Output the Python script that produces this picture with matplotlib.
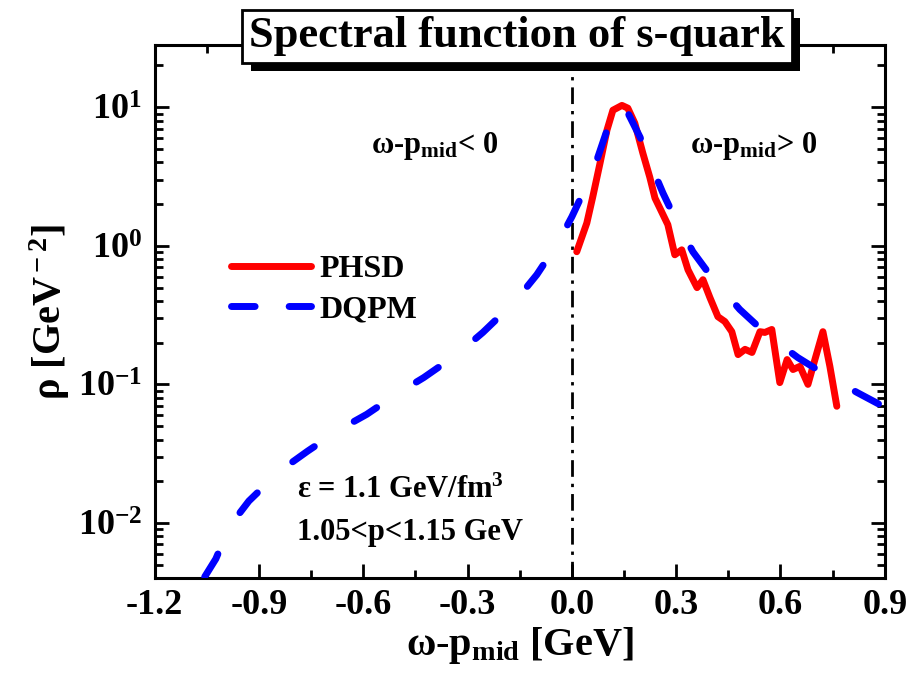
import numpy as np
import matplotlib; matplotlib.use("Agg")
import matplotlib.pyplot as plt
import matplotlib.patheffects as pe
from matplotlib.lines import Line2D
from matplotlib.ticker import FixedLocator, FixedFormatter, LogLocator

plt.rcParams["font.family"] = ["Liberation Serif", "DejaVu Serif"]
plt.rcParams["font.weight"] = "bold"
plt.rcParams["axes.labelweight"] = "bold"
plt.rcParams["mathtext.fontset"] = "custom"
plt.rcParams["mathtext.rm"] = "Liberation Serif:bold"
plt.rcParams["mathtext.bf"] = "Liberation Serif:bold"
plt.rcParams["mathtext.it"] = "Liberation Serif:bold:italic"

# ---- data ----
dqpm_x = [-1.056, -1.024, -0.984, -0.929, -0.840, -0.760, -0.667, -0.590, -0.501, -0.426,
          -0.331, -0.256, -0.164, -0.101, -0.040, 0.000, 0.043, 0.072, 0.104, 0.147,
          0.196, 0.224, 0.262, 0.296, 0.348, 0.403, 0.483, 0.561, 0.650, 0.728, 0.820, 0.900]
dqpm_rho = [0.00409, 0.00551, 0.00951, 0.0144, 0.0237, 0.0330, 0.0474, 0.0608, 0.0861, 0.112,
            0.164, 0.237, 0.395, 0.618, 1.05, 1.62, 2.75, 4.16, 7.18, 10.7,
            6.08, 4.02, 2.40, 1.59, 0.906, 0.589, 0.347, 0.229, 0.156, 0.118, 0.0875, 0.0684]

phsd_x = [0.014, 0.043, 0.060, 0.081, 0.101, 0.118, 0.144, 0.161, 0.181, 0.204,
          0.224, 0.239, 0.253, 0.276, 0.296, 0.316, 0.334, 0.360, 0.377, 0.397,
          0.420, 0.440, 0.460, 0.478, 0.498, 0.518, 0.541, 0.555, 0.575, 0.598,
          0.619, 0.636, 0.656, 0.679, 0.699, 0.722, 0.742, 0.762]
phsd_rho = [0.906, 1.46, 2.25, 3.95, 6.84, 9.51, 10.3, 9.84, 7.67, 4.67,
            3.13, 2.21, 1.87, 1.42, 0.861, 0.935, 0.671, 0.499, 0.569, 0.423,
            0.308, 0.284, 0.240, 0.164, 0.179, 0.170, 0.240, 0.237, 0.249, 0.103,
            0.151, 0.128, 0.135, 0.100, 0.151, 0.240, 0.135, 0.0695]

x_ticks = [-1.2, -0.9, -0.6, -0.3, 0.0, 0.3, 0.6, 0.9]
x_ticklabels = ["-1.2", "-0.9", "-0.6", "-0.3", "0.0", "0.3", "0.6", "0.9"]
x_minor = [-1.05, -0.75, -0.45, -0.15, 0.15, 0.45, 0.75]

fig = plt.figure(figsize=(9.15, 6.85), dpi=100)
ax = fig.add_axes([0.169, 0.156, 0.798, 0.778])

ax.plot(phsd_x, phsd_rho, color="#ff0000", lw=5, solid_joinstyle="round",
        solid_capstyle="round", zorder=3)
ax.plot(dqpm_x, dqpm_rho, color="#0000ff", lw=5, dashes=(3.8, 6.8),
        dash_capstyle="round", zorder=4)
ax.axvline(0.0, color="k", lw=2, ls=(0, (6, 2.5, 1.2, 2.5)), zorder=2)

ax.set_yscale("log")
ax.set_xlim(-1.2, 0.9)
ax.set_ylim(0.004, 28)
ax.xaxis.set_major_locator(FixedLocator(x_ticks))
ax.xaxis.set_major_formatter(FixedFormatter(x_ticklabels))
ax.xaxis.set_minor_locator(FixedLocator(x_minor))
ax.yaxis.set_major_locator(LogLocator(base=10, numticks=10))
ax.yaxis.set_minor_locator(LogLocator(base=10, subs=np.arange(2, 10), numticks=20))
ax.yaxis.set_minor_formatter(plt.NullFormatter())

ax.tick_params(which="both", direction="in", top=True, right=True, width=2)
ax.tick_params(which="major", length=10, labelsize=26)
ax.tick_params(which="minor", length=6)
ax.tick_params(axis="x", which="major", pad=8)
ax.tick_params(axis="y", which="major", pad=9)
for lab in ax.get_xticklabels() + ax.get_yticklabels():
    lab.set_fontweight("bold")
for s in ax.spines.values():
    s.set_linewidth(2.2)

ax.set_xlabel("ω-p$_{\\rm mid}$ [GeV]", fontsize=29, labelpad=2)
ax.set_ylabel("ρ [GeV$^{\\rm -2}$]", fontsize=29, labelpad=4)

ax.text(0.297, 0.797, "ω-p$_{\\rm mid}$< 0", transform=ax.transAxes, fontsize=22,
        ha="left", va="baseline")
ax.text(0.733, 0.797, "ω-p$_{\\rm mid}$> 0", transform=ax.transAxes, fontsize=22,
        ha="left", va="baseline")
ax.text(0.195, 0.150, "ε = 1.1 GeV/fm$^{3}$", transform=ax.transAxes, fontsize=22,
        ha="left", va="baseline")
ax.text(0.195, 0.071, "1.05<p<1.15 GeV", transform=ax.transAxes, fontsize=22,
        ha="left", va="baseline")

handles = [Line2D([], [], color="#ff0000", lw=5, solid_capstyle="round"),
           Line2D([], [], color="#0000ff", lw=5, dashes=(3.4, 4.9), dash_capstyle="round")]
ax.legend(handles, ["PHSD", "DQPM"], loc="upper left", bbox_to_anchor=(0.105, 0.607),
          frameon=False, fontsize=23, handlelength=2.5, handletextpad=0.25,
          labelspacing=0.35, borderpad=0, borderaxespad=0)

# title box with drop shadow
title = "Spectral function of s-quark"
t = fig.text(0.565, 0.947, title, fontsize=32, color="k", ha="center", va="center",
             bbox=dict(boxstyle="square,pad=0.15", fc="white", ec="k", lw=2), zorder=11)
t.get_bbox_patch().set_path_effects([
    pe.SimplePatchShadow(offset=(6, -6), shadow_rgbFace="k", alpha=1.0), pe.Normal()])

fig.savefig("out.png", dpi=100)
